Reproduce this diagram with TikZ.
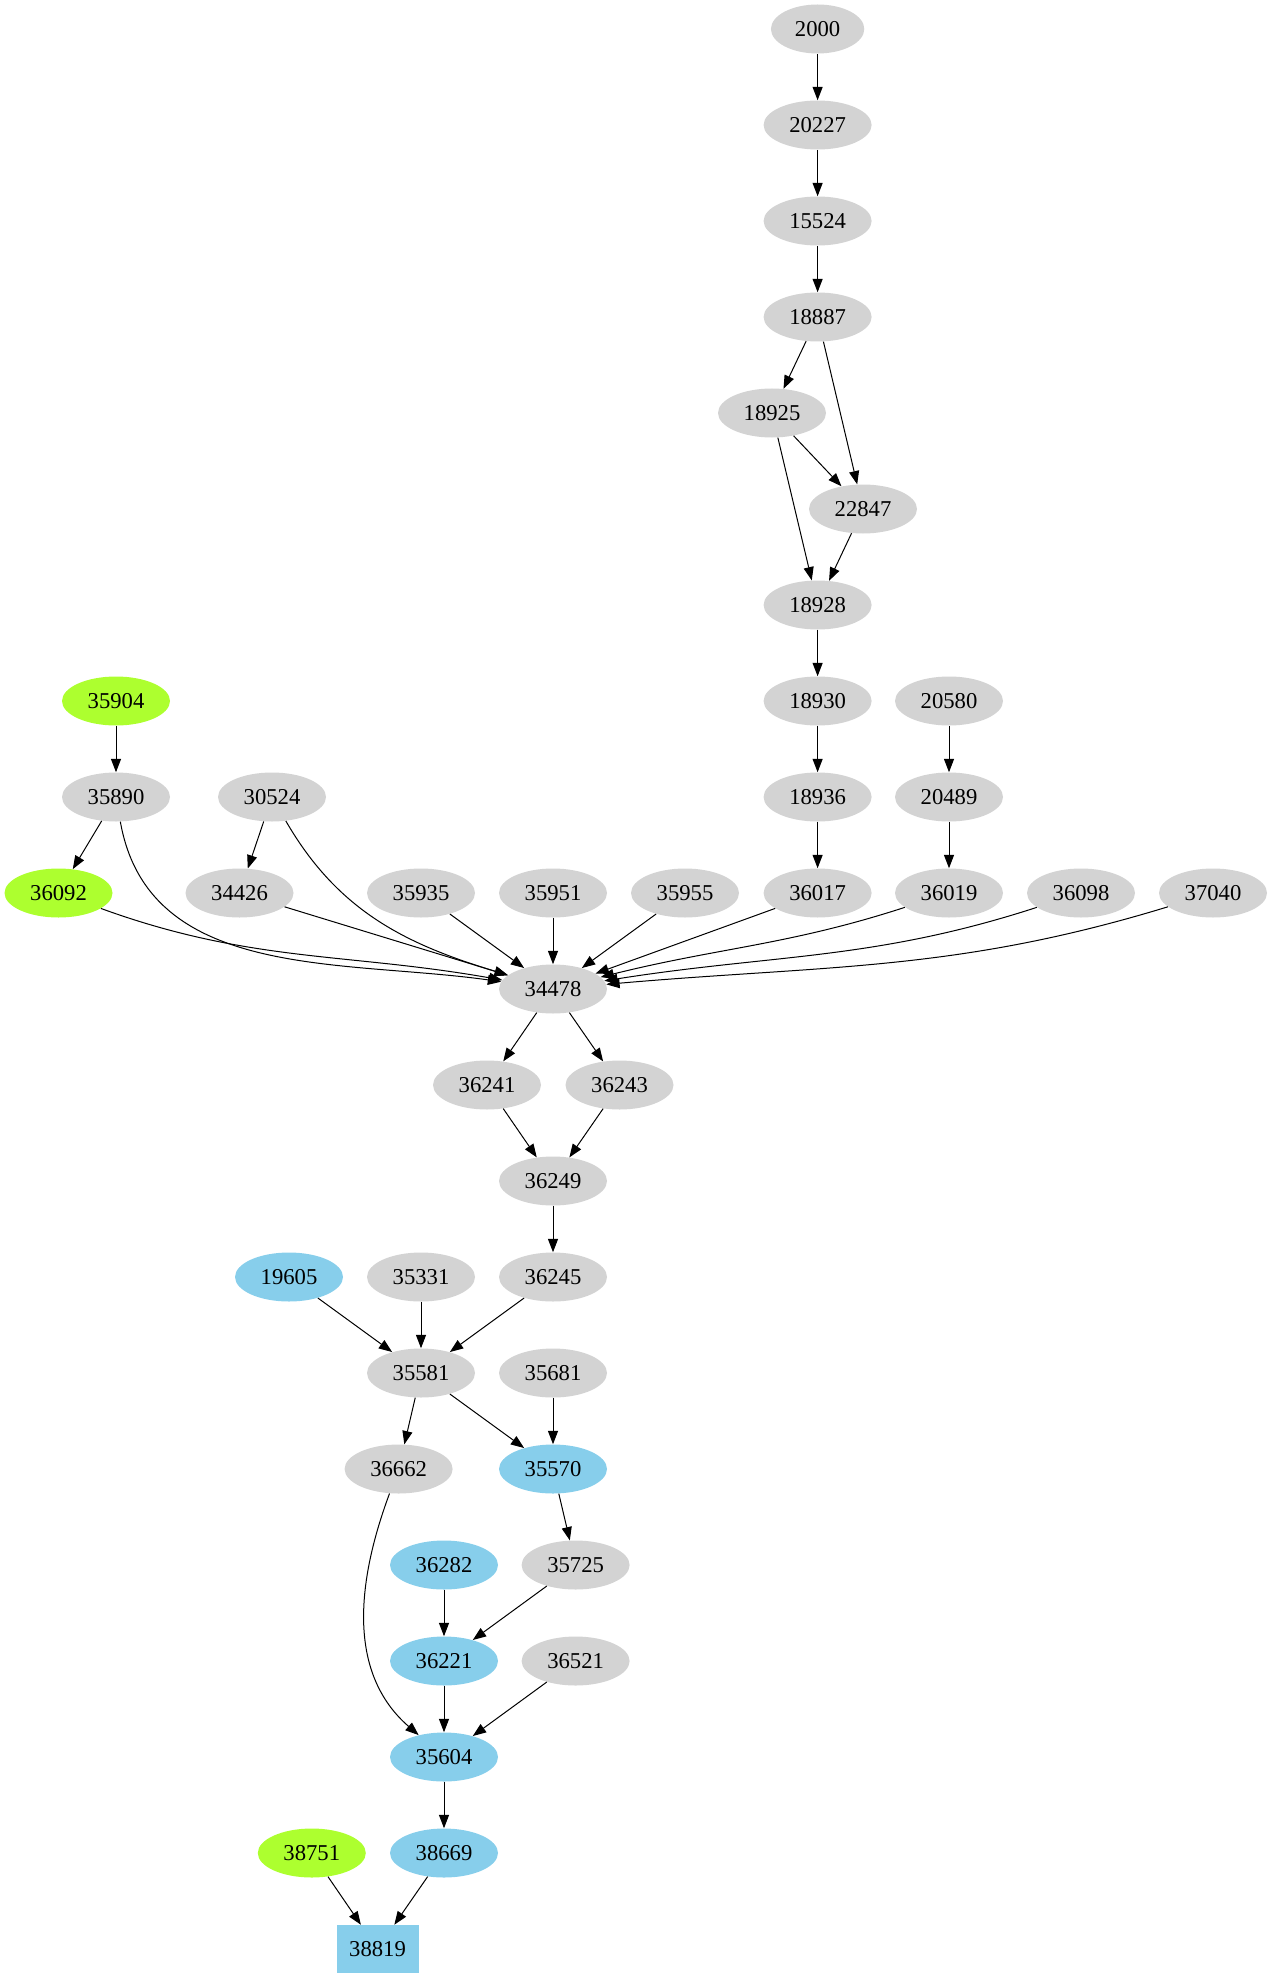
\documentclass[tikz,border=0pt]{standalone}
\usepackage{fontspec}
\setmainfont{Liberation Serif}
\usetikzlibrary{arrows.meta,shapes.geometric}
\definecolor{lgray}{RGB}{211,211,211}
\definecolor{lgreen}{RGB}{173,255,47}
\definecolor{lblue}{RGB}{135,206,235}

\begin{document}
\begin{tikzpicture}[x=0.75pt, y=-0.75pt,
  job/.style={ellipse, fill=lgray, inner sep=0pt, minimum width=81pt,
              minimum height=36.75pt, font=\fontsize{17}{20}\selectfont},
  startjob/.style={job, fill=lgreen},
  donejob/.style={job, fill=lblue},
  link/.style={arrows=-{Triangle[length=10pt, width=7.5pt]}, line width=0.75pt}]
  \useasboundingbox (0,0) rectangle (1273,1979);
  % Top chain
  \node(n2000)[job, minimum width=70pt] at (817.6,29) {2000};
  \node(n20227)[job] at (817.6,125) {20227};
  \node(n15524)[job] at (817.6,221) {15524};
  \node(n18887)[job] at (817.6,317) {18887};
  \node(n18925)[job] at (772,413) {18925};
  \node(n22847)[job] at (863,509) {22847};
  \node(n18928)[job] at (817.6,605) {18928};
  \node(n18930)[job] at (817.6,701) {18930};
  \node(n20580)[job] at (949,701) {20580};
  \node(n35904)[startjob] at (116,701) {35904};
  \node(n35890)[job] at (116,797) {35890};
  \node(n30524)[job] at (272,797) {30524};
  \node(n18936)[job] at (817.6,797) {18936};
  \node(n20489)[job] at (949,797) {20489};
  % Row feeding the merge node
  \node(n36092)[startjob] at (58.5,893) {36092};
  \node(n34426)[job] at (239.5,893) {34426};
  \node(n35935)[job] at (421,893) {35935};
  \node(n35951)[job] at (553,893) {35951};
  \node(n35955)[job] at (685,893) {35955};
  \node(n36017)[job] at (817.6,893) {36017};
  \node(n36019)[job] at (949,893) {36019};
  \node(n36098)[job] at (1081,893) {36098};
  \node(n37040)[job] at (1213,893) {37040};
  % Merge and below
  \node(n34478)[job] at (553,989) {34478};
  \node(n36241)[job] at (487,1085) {36241};
  \node(n36243)[job] at (619.5,1085) {36243};
  \node(n36249)[job] at (553,1181) {36249};
  \node(n19605)[donejob] at (289,1277) {19605};
  \node(n35331)[job] at (421,1277) {35331};
  \node(n36245)[job] at (553,1277) {36245};
  \node(n35581)[job] at (421,1373) {35581};
  \node(n35681)[job] at (553,1373) {35681};
  \node(n36662)[job] at (398.6,1469) {36662};
  \node(n35570)[donejob] at (553,1469) {35570};
  \node(n36282)[donejob] at (444,1565) {36282};
  \node(n35725)[job] at (575.6,1565) {35725};
  \node(n36221)[donejob] at (444,1661) {36221};
  \node(n36521)[job] at (575.6,1661) {36521};
  \node(n35604)[donejob] at (444,1757) {35604};
  \node(n38751)[startjob] at (311.8,1853) {38751};
  \node(n38669)[donejob] at (444,1853) {38669};
  \node(n38819)[rectangle, fill=lblue, inner sep=0pt, minimum width=61.5pt,
                minimum height=36pt, font=\fontsize{17}{20}\selectfont] at (377.5,1949) {38819};
  % Arrows
  \draw[link] (n2000) -- (n20227);
  \draw[link] (n20227) -- (n15524);
  \draw[link] (n15524) -- (n18887);
  \draw[link] (n18887) -- (n18925);
  \draw[link] (n18887) -- (n22847);
  \draw[link] (n18925) -- (n22847);
  \draw[link] (n18925) -- (n18928);
  \draw[link] (n22847) -- (n18928);
  \draw[link] (n18928) -- (n18930);
  \draw[link] (n18930) -- (n18936);
  \draw[link] (n18936) -- (n36017);
  \draw[link] (n20580) -- (n20489);
  \draw[link] (n20489) -- (n36019);
  \draw[link] (n35904) -- (n35890);
  \draw[link] (n35890) -- (n36092);
  \draw[link] (n30524) -- (n34426);
  \draw[link] (n35890) to[out=-80, in=172] (n34478);
  \draw[link] (n30524) to[out=-60, in=163] (n34478);
  \draw[link] (n36092) to[out=-20, in=170] (n34478);
  \draw[link] (n34426) -- (n34478);
  \draw[link] (n35935) -- (n34478);
  \draw[link] (n35951) -- (n34478);
  \draw[link] (n35955) -- (n34478);
  \draw[link] (n36017) -- (n34478);
  \draw[link] (n36019) to[out=-162, in=14] (n34478);
  \draw[link] (n36098) to[out=-162, in=9] (n34478);
  \draw[link] (n37040) to[out=-163, in=5] (n34478);
  \draw[link] (n34478) -- (n36241);
  \draw[link] (n34478) -- (n36243);
  \draw[link] (n36241) -- (n36249);
  \draw[link] (n36243) -- (n36249);
  \draw[link] (n36249) -- (n36245);
  \draw[link] (n19605) -- (n35581);
  \draw[link] (n35331) -- (n35581);
  \draw[link] (n36245) -- (n35581);
  \draw[link] (n35581) -- (n36662);
  \draw[link] (n35581) -- (n35570);
  \draw[link] (n35681) -- (n35570);
  \draw[link] (n35570) -- (n35725);
  \draw[link] (n36282) -- (n36221);
  \draw[link] (n35725) -- (n36221);
  \draw[link] (n36662) .. controls (350,1600) and (355,1680) .. (n35604);
  \draw[link] (n36221) -- (n35604);
  \draw[link] (n36521) -- (n35604);
  \draw[link] (n35604) -- (n38669);
  \draw[link] (n38751) -- (n38819);
  \draw[link] (n38669) -- (n38819);
\end{tikzpicture}
\end{document}
